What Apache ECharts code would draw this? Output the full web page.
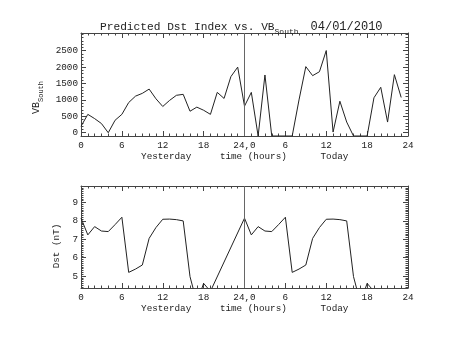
<!DOCTYPE html>
<html>
<head>
<meta charset="utf-8">
<script src="https://cdn.jsdelivr.net/npm/echarts@6/dist/echarts.min.js"></script>
<style>html,body{margin:0;padding:0;background:#fff}#c{width:453px;height:340px}</style>
</head>
<body>
<div id="c"></div>
<script>
// ---- data ----
const vbHours = [0,1,2,3,4,5,6,7,8,9,10,11,12,13,14,15,16,17,18,19,20,21,22,23,
                 24,25,26,27,28,29,30,31,32,33,34,35,36,37,38,39,40,41,42,43,44,45,46,47];
const vbSouth = [195,560,430,280,0,380,560,920,1115,1200,1330,1035,800,985,1140,1170,655,780,685,560,1230,1045,1710,2000,
                 810,1230,-100,1760,-100,-100,-100,-100,1000,2015,1740,1860,2505,20,960,325,-100,-100,-100,1065,1385,325,1770,1075];
const dstHours = [0,1,2,3,4,5,6,7,8,9,10,11,12,13,14,15,16,17,18,19,
                  24,25,26,27,28,29,30,31,32,33,34,35,36,37,38,39,40,41,42,43];
const dstVals = [8.15,7.24,7.69,7.45,7.42,7.8,8.2,5.2,5.38,5.6,7.05,7.64,8.09,8.1,8.07,8.0,4.97,3.57,4.6,4.17,
                 8.15,7.24,7.69,7.45,7.42,7.8,8.2,5.2,5.38,5.6,7.05,7.64,8.09,8.1,8.07,8.0,4.97,3.57,4.6,4.17];
const xTickLabels = {0:'0',6:'6',12:'12',18:'18',24:'24,0',30:'6',36:'12',42:'18',48:'24'};
const xNameLabels = [['Yesterday',12.5],['time (hours)',25.3],['Today',37.2]];
const vbMajor = [0,500,1000,1500,2000,2500];
const dstMajor = [5,6,7,8,9];
const dividerHour = 24;

const vbMinor = []; for (let v = 0; v <= 3000; v += 100) vbMinor.push(v);
const dstMinor = []; for (let k = 44; k <= 99; k++) dstMinor.push(k / 10);

const FONT = 'Liberation Mono';
const AX = '#444';
const TXT = '#222';

const grids = [
  {left: 81, top: 33, width: 327, height: 103},
  {left: 81, top: 186, width: 327, height: 102}
];

function xAxes(gi) {
  const base = {
    type: 'value', gridIndex: gi, min: 0, max: 48, interval: 6,
    axisLine: {onZero: false, lineStyle: {color: AX, width: 1}},
    axisTick: {inside: true, length: 5, lineStyle: {color: AX}},
    minorTick: {show: true, splitNumber: 6, length: 2.5, lineStyle: {color: AX}},
    splitLine: {show: false}, minorSplitLine: {show: false}
  };
  return [
    Object.assign({}, base, {position: 'bottom',
      axisLabel: {margin: 5, fontFamily: FONT, fontSize: 9.3, color: TXT,
        formatter: v => xTickLabels[v] !== undefined ? xTickLabels[v] : ''}}),
    Object.assign({}, base, {position: 'top', axisLabel: {show: false}}),
    {type: 'value', gridIndex: gi, min: 0, max: 48, position: 'bottom',
      axisLine: {show: false, onZero: false}, axisTick: {show: false}, splitLine: {show: false},
      axisLabel: {margin: 16, fontFamily: FONT, fontSize: 9.3, color: TXT,
        customValues: xNameLabels.map(d => d[1]),
        formatter: v => { const f = xNameLabels.find(d => Math.abs(d[1] - v) < 0.01); return f ? f[0] : ''; }}}
  ];
}

function yAxes(gi, min, max, major, minor, labelFmt, nameOpts) {
  const common = {type: 'value', gridIndex: gi, min: min, max: max, splitLine: {show: false}};
  return [
    Object.assign({}, common, {position: 'left',
      axisLine: {show: true, onZero: false, lineStyle: {color: AX}},
      axisTick: {show: true, inside: true, length: 5, customValues: major, lineStyle: {color: AX}},
      axisLabel: {show: true, margin: 3, fontFamily: FONT, fontSize: 9.3, color: TXT, customValues: major, formatter: labelFmt}
    }, nameOpts),
    Object.assign({}, common, {position: 'left',
      axisLine: {show: false, onZero: false},
      axisTick: {show: true, inside: true, length: 2.5, customValues: minor, lineStyle: {color: AX}},
      axisLabel: {show: false}}),
    Object.assign({}, common, {position: 'right',
      axisLine: {show: true, onZero: false, lineStyle: {color: AX}},
      axisTick: {show: true, inside: true, length: 5, customValues: major, lineStyle: {color: AX}},
      axisLabel: {show: false}}),
    Object.assign({}, common, {position: 'right',
      axisLine: {show: false, onZero: false},
      axisTick: {show: true, inside: true, length: 2.5, customValues: minor, lineStyle: {color: AX}},
      axisLabel: {show: false}})
  ];
}

const divider = {
  silent: true, symbol: 'none', animation: false,
  label: {show: false},
  lineStyle: {color: '#666', width: 1, type: 'solid'},
  data: [{xAxis: dividerHour}]
};

const option = {
  animation: false,
  backgroundColor: '#fff',
  title: {
    left: 95, top: 13,
    text: '{a|Predicted Dst Index vs. VB}{b|South}{c|04/01/2010}',
    textStyle: {
      fontWeight: 'normal',
      rich: {
        a: {fontFamily: FONT, fontSize: 11.2, fontWeight: 'normal', color: TXT, lineHeight: 18},
        b: {fontFamily: FONT, fontSize: 8, fontWeight: 'normal', color: TXT, verticalAlign: 'bottom', lineHeight: 18},
        c: {fontFamily: FONT, fontSize: 12, fontWeight: 'normal', color: TXT, lineHeight: 18, padding: [0, 0, 0, 12]}
      }
    }
  },
  grid: grids,
  xAxis: [].concat(xAxes(0), xAxes(1)),
  yAxis: [].concat(
    yAxes(0, -100, 3040, vbMajor, vbMinor, v => String(v), {
      name: '{a|VB}{b|South}', nameLocation: 'middle', nameGap: 24, nameRotate: 90,
      nameTextStyle: {padding: [0, 26, 0, 0], rich: {
        a: {fontFamily: FONT, fontSize: 10, color: TXT, lineHeight: 16},
        b: {fontFamily: FONT, fontSize: 7, color: TXT, verticalAlign: 'bottom', lineHeight: 16}
      }}
    }),
    yAxes(1, 4.35, 9.9, dstMajor, dstMinor, v => String(v), {
      name: 'Dst (nT)', nameLocation: 'middle', nameGap: 12, nameRotate: 90,
      nameTextStyle: {fontFamily: FONT, fontSize: 9.3, color: TXT, padding: [0, 18, 0, 0]}
    })
  ),
  series: [
    {type: 'line', xAxisIndex: 0, yAxisIndex: 0, showSymbol: false, clip: true,
     lineStyle: {color: '#222', width: 1}, itemStyle: {color: '#222'},
     data: vbHours.map((h, i) => [h, vbSouth[i]]), markLine: divider},
    {type: 'line', xAxisIndex: 3, yAxisIndex: 4, showSymbol: false, clip: true,
     lineStyle: {color: '#222', width: 1}, itemStyle: {color: '#222'},
     data: dstHours.map((h, i) => [h, dstVals[i]]), markLine: divider}
  ]
};

const chart = echarts.init(document.getElementById('c'), null, {renderer: 'canvas'});
chart.setOption(option);
</script>
</body>
</html>
